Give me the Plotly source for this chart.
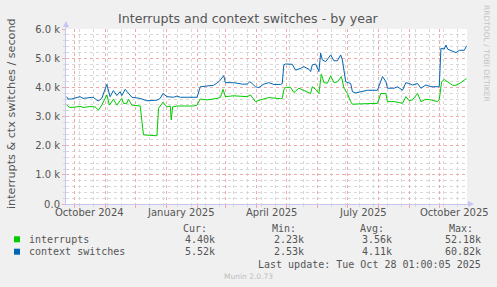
import pandas as pd
import plotly.graph_objects as go

# ---------------- data ----------------
start_date = "2024-09-23"   # day 0 of the 400-day window
range_start = "2024-09-23"
range_end = "2025-10-28"

ctx_days = [0.7, 2, 5.7, 14, 17, 27, 32, 35.7, 40.7, 44,
            47.3, 50.7, 54, 55.7, 59, 62.3, 65.7, 74, 80.7, 90.7,
            94, 96.7, 100.7, 107.3, 110.7, 114, 130.7, 134, 140.7, 147.3,
            150.7, 153.3, 157.3, 159, 167.3, 175.7, 180.7, 183.3, 185.7, 189,
            192.3, 197.3, 202.3, 207.3, 214, 215.7, 217.3, 219, 225.7, 229,
            234, 237.3, 242.3, 244, 245.7, 249, 252.3, 254, 255.7, 259,
            264, 267.3, 270.7, 274, 275.7, 277.3, 279, 284, 285.7, 289,
            300.7, 310.7, 313.3, 315.7, 319, 320.7, 327.3, 330.7, 335.7, 339,
            342.3, 345.7, 350.7, 354, 359, 364, 372.3, 374, 377.3, 379,
            380.7, 385.7, 389, 392.3, 397.3, 399.5]
ctx_k = [3.68, 3.60, 3.60, 3.68, 3.62, 3.66, 3.53, 3.62, 4.10, 3.68,
         3.89, 3.72, 3.85, 3.72, 3.93, 3.78, 3.66, 3.62, 3.54, 3.56,
         3.62, 3.79, 3.68, 3.66, 3.70, 3.66, 3.66, 4.02, 4.04, 4.07,
         4.15, 4.22, 4.40, 4.16, 4.16, 4.11, 4.11, 4.19, 4.13, 4.02,
         3.99, 4.11, 4.16, 4.10, 4.10, 4.13, 4.77, 4.80, 4.79, 4.59,
         4.65, 4.71, 4.62, 4.54, 4.77, 4.80, 4.54, 5.17, 4.94, 4.88,
         5.11, 4.91, 4.91, 5.11, 4.94, 4.48, 4.19, 4.13, 3.85, 3.81,
         3.90, 3.90, 4.13, 4.37, 4.20, 3.97, 3.97, 4.02, 3.90, 4.16,
         4.13, 4.08, 4.13, 3.97, 4.08, 4.02, 4.02, 5.34, 5.31, 5.45,
         5.31, 5.23, 5.19, 5.27, 5.27, 5.42]

int_days = [0.7, 4, 10.7, 14, 17, 24, 29, 32.3, 35.7, 40.7,
            43.3, 47.3, 50.7, 55.7, 57.3, 60.7, 62.3, 65.7, 74, 77.3,
            90.7, 92.3, 96.7, 100.7, 104, 105, 106.3, 110.7, 127.3, 130.7,
            134, 140.7, 150.7, 154, 156.7, 159, 167.3, 175.7, 180.7, 184,
            185.7, 189, 194, 202.3, 214, 215.7, 217.3, 219, 224, 227.3,
            232.3, 235.7, 240.7, 244, 245.7, 249, 252.3, 254.7, 257.3, 260.7,
            264, 267.3, 270.7, 274.7, 277.3, 280.7, 284, 285.7, 290.7, 300.7,
            310.7, 314, 319, 320.7, 327.3, 332.3, 335.7, 339, 342.3, 345.7,
            350.7, 354, 359, 364, 370.7, 372.3, 374.7, 377.3, 380.7, 385.7,
            389, 394, 397.3, 399.5]
int_k = [3.39, 3.31, 3.33, 3.35, 3.31, 3.34, 3.33, 3.22, 3.39, 3.74,
         3.39, 3.59, 3.39, 3.62, 3.45, 3.45, 3.59, 3.39, 3.36, 2.37,
         2.34, 3.28, 3.49, 3.33, 3.36, 2.88, 3.33, 3.36, 3.36, 3.39,
         3.60, 3.57, 3.62, 3.66, 3.93, 3.68, 3.71, 3.68, 3.68, 3.74,
         3.66, 3.51, 3.57, 3.65, 3.61, 3.62, 3.91, 4.00, 4.00, 3.82,
         3.97, 3.91, 3.82, 3.79, 4.02, 3.93, 3.79, 4.46, 4.16, 4.14,
         4.39, 4.16, 4.19, 4.37, 3.97, 3.79, 3.51, 3.42, 3.43, 3.45,
         3.45, 3.79, 3.79, 3.51, 3.51, 3.48, 3.45, 3.68, 3.54, 3.57,
         3.79, 3.51, 3.59, 3.57, 3.51, 3.57, 4.19, 4.27, 4.19, 4.07,
         4.07, 4.16, 4.25, 4.30]

month_lines = ["2024-10-01", "2024-11-01", "2024-12-01", "2025-01-01", "2025-02-01",
               "2025-03-01", "2025-04-01", "2025-05-01", "2025-06-01", "2025-07-01",
               "2025-08-01", "2025-09-01", "2025-10-01"]
x_label_pos = ["2024-10-16", "2025-01-16", "2025-04-16", "2025-07-16", "2025-10-16"]
x_labels = ["October 2024", "January 2025", "April 2025", "July 2025", "October 2025"]

y_tickvals = [0, 1, 2, 3, 4, 5, 6]
y_ticktext = ["0.0", "1.0 k", "2.0 k", "3.0 k", "4.0 k", "5.0 k", "6.0 k"]
y_minor = [0.2, 0.4, 0.6, 0.8, 1.2, 1.4, 1.6, 1.8, 2.2, 2.4, 2.6, 2.8,
           3.2, 3.4, 3.6, 3.8, 4.2, 4.4, 4.6, 4.8, 5.2, 5.4, 5.6, 5.8]

title = "Interrupts and context switches - by year"
y_title = "interrupts & ctx switches / second"
series_names = ["interrupts", "context switches"]
series_colors = ["#00CC00", "#0066B3"]
stat_headers = ["Cur:", "Min:", "Avg:", "Max:"]
stats = [["4.40k", "2.23k", "3.56k", "52.18k"],
         ["5.52k", "2.53k", "4.11k", "60.82k"]]
last_update = "Last update: Tue Oct 28 01:00:05 2025"
footer = "Munin 2.0.73"
side_text = "RRDTOOL / TOBI OETIKER"

# ---------------- figure ----------------
W, H = 497, 287
L, R, T, B = 66, 30, 29, 83
PW, PH = W - L - R, H - T - B


def px(x):
    return (x - L) / PW


def py(y):
    return (H - B - y) / PH


t0 = pd.Timestamp(start_date)
int_x = t0 + pd.to_timedelta(int_days, unit="D")
ctx_x = t0 + pd.to_timedelta(ctx_days, unit="D")
# fortnightly minor grid positions
x_minor = [d.strftime("%Y-%m-%d") for d in pd.date_range("2024-10-06", "2025-10-27", freq="14D")]

fig = go.Figure()
fig.add_trace(go.Scatter(x=int_x, y=int_k, mode="lines", name=series_names[0],
                         line=dict(color=series_colors[0], width=1)))
fig.add_trace(go.Scatter(x=ctx_x, y=ctx_k, mode="lines", name=series_names[1],
                         line=dict(color=series_colors[1], width=1)))

major_grid = "#F0AAAA"
minor_grid = "#D8D8D8"
axis_col = "#C6C6F2"
txt = "#555555"

fig.update_layout(
    width=W, height=H,
    margin=dict(l=L, r=R, t=T, b=B, pad=0),
    paper_bgcolor="#F0F0F0", plot_bgcolor="#FFFFFF",
    showlegend=False, hovermode=False,
    font=dict(family="DejaVu Sans", size=10, color=txt),
)
fig.update_xaxes(
    type="date", range=[range_start, range_end],
    tickmode="array", tickvals=month_lines, showticklabels=False,
    showgrid=True, gridcolor=major_grid, griddash="dot", gridwidth=1,
    ticks="outside", ticklen=3, tickcolor=major_grid,
    minor=dict(tickmode="array", tickvals=x_minor, showgrid=True,
               gridcolor=minor_grid, griddash="dot", ticks="outside",
               ticklen=2, tickcolor=minor_grid),
    showline=True, linecolor=axis_col, linewidth=1, zeroline=False,
)
fig.update_yaxes(
    range=[0, 6], tickmode="array", tickvals=y_tickvals, ticktext=y_ticktext,
    tickfont=dict(size=10, color=txt),
    showgrid=True, gridcolor=major_grid, griddash="dot", gridwidth=1,
    ticks="outside", ticklen=3, tickcolor=major_grid,
    minor=dict(tickmode="array", tickvals=y_minor, showgrid=True,
               gridcolor=minor_grid, griddash="dot",
               ticks="outside", ticklen=2, tickcolor=minor_grid),
    showline=True, linecolor=axis_col, linewidth=1, zeroline=False,
)

shapes = []
# axis extension + arrows
shapes.append(dict(type="line", xref="paper", yref="paper", x0=0, x1=0,
                   y0=1, y1=py(24), line=dict(color=axis_col, width=1)))
shapes.append(dict(type="path", xref="paper", yref="paper",
                   path=f"M {px(63)},{py(27)} L {px(69)},{py(27)} L {px(66)},{py(21)} Z",
                   fillcolor=axis_col, line=dict(width=0)))
shapes.append(dict(type="line", xref="paper", yref="paper", x0=1, x1=px(470),
                   y0=0, y1=0, line=dict(color=axis_col, width=1)))
shapes.append(dict(type="path", xref="paper", yref="paper",
                   path=f"M {px(468)},{py(201)} L {px(468)},{py(207)} L {px(474)},{py(204)} Z",
                   fillcolor=axis_col, line=dict(width=0)))
# legend squares
for i, col in enumerate(series_colors):
    yc = 239.3 + i * 12.4
    shapes.append(dict(type="rect", xref="paper", yref="paper",
                       x0=px(14), x1=px(20), y0=py(yc - 3), y1=py(yc + 3),
                       fillcolor=col, line=dict(width=0)))
fig.update_layout(shapes=shapes)

ann = []
ann.append(dict(text=title, x=px(248.5), y=py(19), xref="paper", yref="paper",
                showarrow=False, font=dict(size=12.6, color=txt),
                xanchor="center", yanchor="middle"))
ann.append(dict(text=y_title, x=px(11), y=py(114), xref="paper", yref="paper",
                showarrow=False, textangle=-90, font=dict(size=11.2, color=txt),
                xanchor="center", yanchor="middle"))
ann.append(dict(text=side_text, x=px(487), y=py(53), xref="paper", yref="paper",
                showarrow=False, textangle=90, font=dict(size=7.5, color="#C4C4C4"),
                xanchor="center", yanchor="middle"))
for xp, lab in zip(x_label_pos, x_labels):
    ann.append(dict(text=lab, x=xp, y=py(212.3), xref="x", yref="paper",
                    showarrow=False, font=dict(size=10, color=txt),
                    xanchor="center", yanchor="middle"))

mono = "DejaVu Sans Mono"
header_x = [181, 269.5, 357.5, 447]
value_right = [217, 306, 393.5, 482.5]
for hx, h in zip(header_x, stat_headers):
    ann.append(dict(text=h, x=px(hx), y=py(228.3), xref="paper", yref="paper",
                    showarrow=False, font=dict(family=mono, size=10, color=txt),
                    xanchor="left", yanchor="middle"))
for i, name in enumerate(series_names):
    yc = 239.3 + i * 12.4
    ann.append(dict(text=name, x=px(26.5), y=py(yc), xref="paper", yref="paper",
                    showarrow=False, font=dict(family=mono, size=10, color=txt),
                    xanchor="left", yanchor="middle"))
    for vx, v in zip(value_right, stats[i]):
        ann.append(dict(text=v, x=px(vx), y=py(yc), xref="paper", yref="paper",
                        showarrow=False, font=dict(family=mono, size=10, color=txt),
                        xanchor="right", yanchor="middle"))
ann.append(dict(text=last_update, x=px(482.5), y=py(264), xref="paper", yref="paper",
                showarrow=False, font=dict(family=mono, size=10, color=txt),
                xanchor="right", yanchor="middle"))
ann.append(dict(text=footer, x=px(248), y=py(276.5), xref="paper", yref="paper",
                showarrow=False, font=dict(size=7.5, color="#BDBDBD"),
                xanchor="center", yanchor="middle"))
fig.update_layout(annotations=ann)

fig.write_html("out.html", config={"displayModeBar": False})
